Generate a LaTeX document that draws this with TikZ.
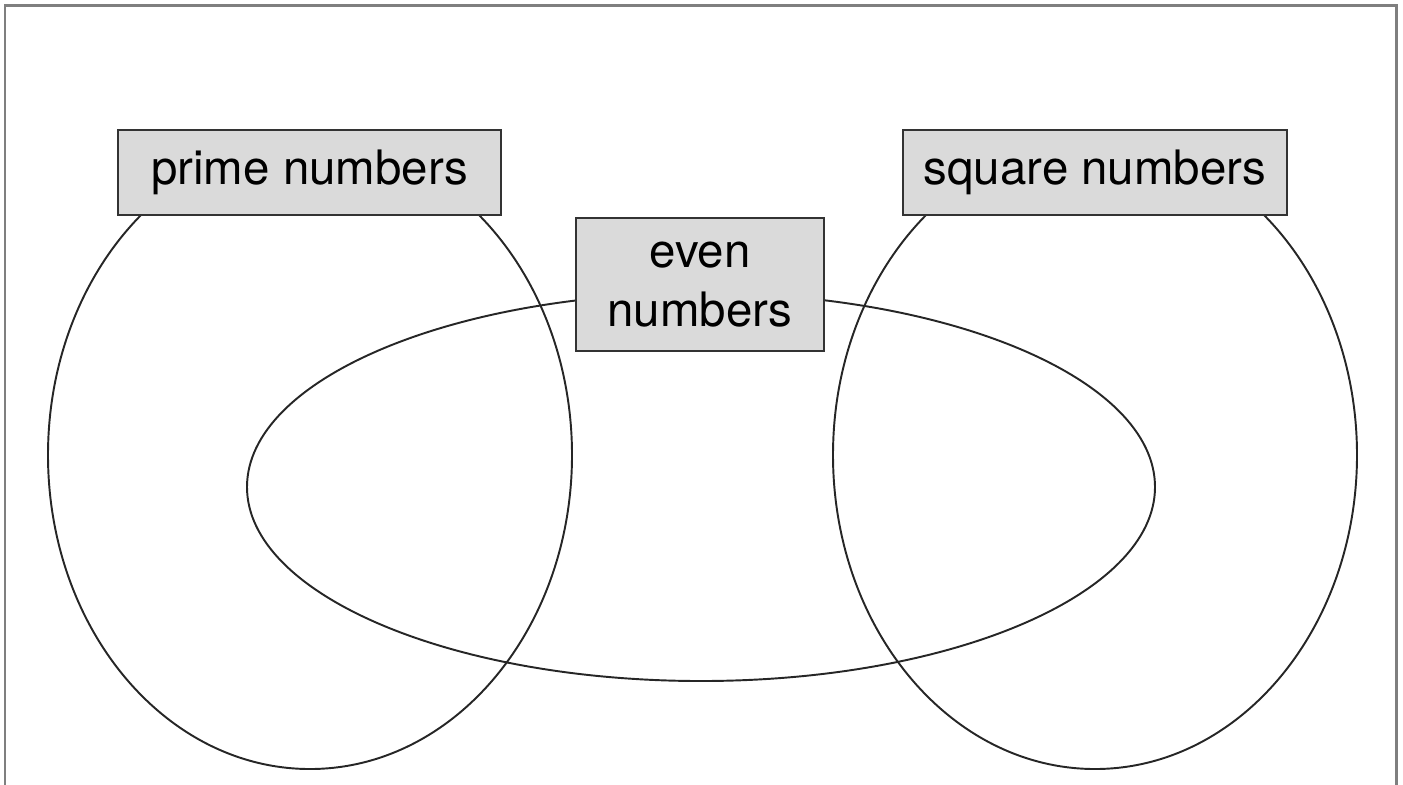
\documentclass[tikz,border=0pt]{standalone}
\usepackage{fontspec}
\setmainfont{TeX Gyre Heros}
\usepackage{xcolor}
\definecolor{FrameGray}{HTML}{7F7F7F}
\definecolor{LabelFill}{HTML}{DADADA}
\usepackage{tikz}
\usetikzlibrary{positioning}

\tikzset{
  setlabel/.style={draw=black!80, line width=0.6pt, fill=LabelFill,
    font=\fontsize{13.5}{16.8}\selectfont, align=center, inner sep=0pt},
  setline/.style={black!85, line width=0.55pt}
}

\begin{document}
\begin{tikzpicture}
        \useasboundingbox (0,0) rectangle (14.03,-7.84);
        % outer frame, open at the bottom
        \draw[FrameGray, line width=0.85pt] (0.05,-7.95) -- (0.05,-0.05) -- (13.96,-0.05) -- (13.96,-7.95);
        % the three sets
        \draw[setline] (3.10,-4.55) ellipse [x radius=2.62, y radius=3.14];
        \draw[setline] (10.95,-4.55) ellipse [x radius=2.62, y radius=3.14];
        \draw[setline] (7.01,-4.87) ellipse [x radius=4.54, y radius=1.94];
        % labels
        \node[setlabel, minimum width=3.83cm, minimum height=0.85cm] (prime) at (3.095,-1.725) {prime numbers};
        \node[setlabel, minimum width=3.84cm, minimum height=0.85cm] (square) at (10.95,-1.725) {square numbers};
        \node[setlabel, minimum width=2.48cm, minimum height=1.33cm] (even) at (7.00,-2.845) {even\\numbers};
      \end{tikzpicture}
\end{document}
